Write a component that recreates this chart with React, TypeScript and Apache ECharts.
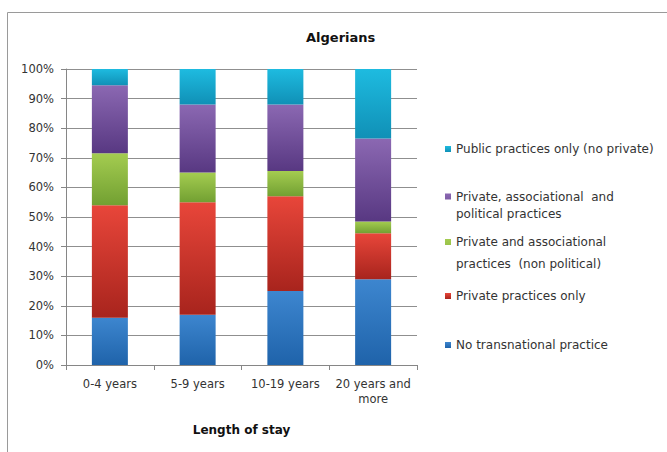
import React, { useEffect, useRef } from "react";
import * as echarts from "echarts";

const categories = ["0-4 years", "5-9 years", "10-19 years", "20 years and\nmore"];
const noTransnational = [16, 17, 25, 29];
const privateOnly = [38, 38, 32, 15.5];
const privateAssoc = [17.5, 10, 8.5, 4];
const privateAssocPolitical = [23, 23, 22.5, 28];
const publicOnly = [5.5, 12, 12, 23.5];

const seriesNames = [
  "No transnational practice",
  "Private practices only",
  "Private and associational practices (non political)",
  "Private, associational and political practices",
  "Public practices only (no private)",
];
const legendLabels = [
  "No transnational practice",
  "Private practices only",
  "Private and associational\npractices  (non political)",
  "Private, associational  and\npolitical practices",
  "Public practices only (no private)",
];
const yTicks = [0, 10, 20, 30, 40, 50, 60, 70, 80, 90, 100];

const colorStops: [string, string, string][] = [
  ["#3d86cf", "#1f63aa", "#2e75c0"],
  ["#e8463a", "#a8241d", "#d03a2e"],
  ["#a4cc50", "#72a032", "#8cbd44"],
  ["#8b68b2", "#583882", "#7450a0"],
  ["#1ebbe0", "#1090b6", "#19aad2"],
];

export default function App() {
  const ref = useRef<HTMLDivElement>(null);
  useEffect(() => {
    if (!ref.current) return;
    const chart = echarts.init(ref.current, null, { renderer: "svg" });
    const dataSets = [noTransnational, privateOnly, privateAssoc, privateAssocPolitical, publicOnly];
    const font = "'DejaVu Sans', 'Noto Sans', sans-serif";
    // legend layout: [top, lineHeight, twoLines]
    const legendLayout: [number, number, boolean][] = [
      [332, 16, false],
      [283, 16, false],
      [226, 22, true],
      [183, 17, true],
      [136, 16, false],
    ];
    chart.setOption({
      animation: false,
      backgroundColor: "#ffffff",
      textStyle: { fontFamily: font },
      title: {
        text: "Algerians",
        left: 301,
        top: 26,
        textStyle: { fontSize: 13, fontWeight: "bold", color: "#111", fontFamily: font },
      },
      color: colorStops.map((c) => c[2]),
      legend: seriesNames.map((n, i) => {
        const [top, lh, two] = legendLayout[i];
        const h = two ? lh + 6 : 6;
        return {
          data: [n],
          orient: "vertical",
          left: 440,
          top,
          itemWidth: 6,
          itemHeight: h,
          icon: two ? `path://M0,0L6,0L6,6L0,6Z M0,${h}L0.001,${h}` : "rect",
          selectedMode: false,
          formatter: () => legendLabels[i],
          textStyle: { fontSize: 12, color: "#333", lineHeight: lh, fontFamily: font },
        };
      }),
      grid: { left: 66, right: 250, top: 69, bottom: 87, containLabel: false },
      xAxis: {
        type: "category",
        data: categories,
        name: "Length of stay",
        nameLocation: "middle",
        nameGap: 59,
        nameTextStyle: { fontSize: 12, fontWeight: "bold", color: "#111", fontFamily: font },
        axisLine: { lineStyle: { color: "#868686" } },
        axisTick: { show: true, length: 5, lineStyle: { color: "#868686" }, alignWithLabel: false },
        axisLabel: {
          interval: 0,
          fontSize: 11.5,
          color: "#333",
          margin: 11,
          lineHeight: 15,
          fontFamily: font,
        },
      },
      yAxis: {
        type: "value",
        min: 0,
        max: 100,
        interval: 10,
        axisLine: { show: true, lineStyle: { color: "#868686" } },
        axisTick: { show: true, length: 5, lineStyle: { color: "#868686" } },
        axisLabel: {
          fontSize: 11.5,
          color: "#333",
          margin: 12,
          fontFamily: font,
          formatter: (v: number) => (yTicks.includes(v) ? v + "%" : ""),
        },
        splitLine: { show: true, lineStyle: { color: "#8f8f8f" } },
      },
      graphic: [
        {
          type: "rect",
          shape: { x: 7.5, y: 12.5, width: 700, height: 500 },
          style: { fill: "none", stroke: "#9a9a9a", lineWidth: 1 },
          silent: true,
        },
      ],
      series: seriesNames.map((n, i) => ({
        name: n,
        type: "bar",
        stack: "total",
        barWidth: 36,
        data: dataSets[i],
        itemStyle: {
          color: new echarts.graphic.LinearGradient(0, 0, 0, 1, [
            { offset: 0, color: colorStops[i][0] },
            { offset: 1, color: colorStops[i][1] },
          ]),
        },
      })),
    });
    return () => chart.dispose();
  }, []);
  return (
    <div
      ref={ref}
      style={{ position: "fixed", left: 0, top: 0, width: 667, height: 452 }}
    />
  );
}
